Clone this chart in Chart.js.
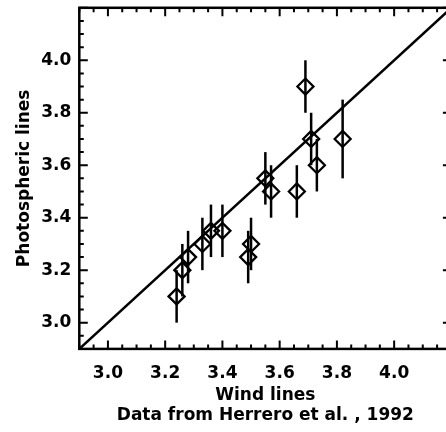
<!DOCTYPE html>
<html lang="en">
<head>
  <meta charset="UTF-8">
  <title>Photospheric vs Wind lines</title>
  <script src="https://cdn.jsdelivr.net/npm/chart.js"></script>
  <style>
    html, body { margin: 0; padding: 0; overflow: hidden; background: #fff; }
    canvas { display: block; }
  </style>
</head>
<body>
  <canvas id="chart" width="452" height="432"></canvas>

  <script>
    // data
    const windLines  = [3.24, 3.26, 3.28, 3.33, 3.36, 3.40, 3.49, 3.50, 3.55, 3.57, 3.66, 3.69, 3.71, 3.73, 3.82];
    const photoLines = [3.10, 3.20, 3.25, 3.30, 3.35, 3.35, 3.25, 3.30, 3.55, 3.50, 3.50, 3.90, 3.70, 3.60, 3.70];
    const photoErr   = [0.10, 0.10, 0.10, 0.10, 0.10, 0.10, 0.10, 0.10, 0.10, 0.10, 0.10, 0.10, 0.10, 0.10, 0.15];

    const xTicks = [3.0, 3.2, 3.4, 3.6, 3.8, 4.0];
    const yTicks = [3.0, 3.2, 3.4, 3.6, 3.8, 4.0];
    const axisMin = 2.9;
    const axisMax = 4.2;

    const font = { family: 'DejaVu Sans', size: 17, weight: 'bold' };

    // vertical error bars
    const errorBars = {
      id: 'errorBars',
      afterDatasetsDraw(chart) {
        const { ctx, scales: { x, y } } = chart;
        ctx.save();
        ctx.strokeStyle = '#000';
        ctx.lineWidth = 2.5;
        windLines.forEach((w, i) => {
          const px = x.getPixelForValue(w);
          ctx.beginPath();
          ctx.moveTo(px, y.getPixelForValue(photoLines[i] - photoErr[i]));
          ctx.lineTo(px, y.getPixelForValue(photoLines[i] + photoErr[i]));
          ctx.stroke();
        });
        ctx.restore();
      }
    };

    // box frame with inward major/minor ticks on all four sides
    const frame = {
      id: 'frame',
      afterDraw(chart) {
        const { ctx, chartArea: a, scales: { x, y } } = chart;
        ctx.save();
        ctx.strokeStyle = '#000';
        ctx.lineWidth = 2;
        for (let i = 0; ; i++) {
          const v = axisMin + i * 0.05;
          if (v > axisMax + 1e-9) break;
          const major = Math.abs(v * 5 - Math.round(v * 5)) < 1e-6;
          const len = major ? 8.5 : 4.5;
          const px = x.getPixelForValue(v);
          const py = y.getPixelForValue(v);
          ctx.beginPath();
          ctx.moveTo(px, a.bottom); ctx.lineTo(px, a.bottom - len);
          ctx.moveTo(px, a.top); ctx.lineTo(px, a.top + len);
          ctx.moveTo(a.left, py); ctx.lineTo(a.left + len, py);
          ctx.moveTo(a.right, py); ctx.lineTo(a.right - len, py);
          ctx.stroke();
        }
        ctx.lineWidth = 2.5;
        ctx.strokeRect(a.left, a.top, a.right - a.left, a.bottom - a.top);
        ctx.restore();
      }
    };

    new Chart(document.getElementById('chart'), {
      type: 'scatter',
      data: {
        datasets: [
          {
            label: 'Herrero et al. 1992',
            data: windLines.map((w, i) => ({ x: w, y: photoLines[i] })),
            pointStyle: 'rectRot',
            pointRadius: 8,
            pointHoverRadius: 8,
            borderWidth: 2.3,
            borderColor: '#000',
            backgroundColor: 'rgba(0,0,0,0)'
          },
          {
            label: 'one-to-one',
            data: [{ x: axisMin, y: axisMin }, { x: axisMax, y: axisMax }],
            showLine: true,
            pointRadius: 0,
            borderWidth: 2.5,
            borderColor: '#000'
          }
        ]
      },
      options: {
        responsive: false,
        animation: false,
        devicePixelRatio: 1,
        layout: { autoPadding: false, padding: { top: 7.8, right: 0.6, left: 0, bottom: 0 } },
        plugins: {
          legend: { display: false },
          tooltip: { enabled: false }
        },
        scales: {
          x: {
            type: 'linear',
            min: axisMin,
            max: axisMax,
            grid: { display: false, drawTicks: false },
            border: { display: false },
            afterBuildTicks: s => { s.ticks = xTicks.map(v => ({ value: v })); },
            afterFit: s => {
              s.height = 432 - 348.9;
              s.paddingLeft = 0;
              s.paddingRight = 0;
            },
            ticks: {
              color: '#000',
              font: font,
              padding: 14,
              maxRotation: 0,
              autoSkip: false,
              callback: v => v.toFixed(1)
            },
            title: {
              display: true,
              text: ['Wind lines', 'Data from Herrero et al. , 1992'],
              color: '#000',
              font: { family: 'DejaVu Sans', size: 17, weight: 'bold', lineHeight: 1.2 },
              padding: { top: 0, bottom: 5.8 }
            }
          },
          y: {
            type: 'linear',
            min: axisMin,
            max: axisMax,
            grid: { display: false, drawTicks: false },
            border: { display: false },
            afterBuildTicks: s => { s.ticks = yTicks.map(v => ({ value: v })); },
            afterFit: s => {
              s.width = 79.3;
              s.paddingTop = 0;
              s.paddingBottom = 0;
            },
            ticks: {
              color: '#000',
              font: font,
              padding: 8,
              autoSkip: false,
              callback: v => v.toFixed(1)
            },
            title: {
              display: true,
              text: 'Photospheric lines',
              color: '#000',
              font: { family: 'DejaVu Sans', size: 17, weight: 'bold', lineHeight: 1.2 },
              padding: { top: 14.8, bottom: 0 }
            }
          }
        }
      },
      plugins: [errorBars, frame]
    });
  </script>
</body>
</html>
